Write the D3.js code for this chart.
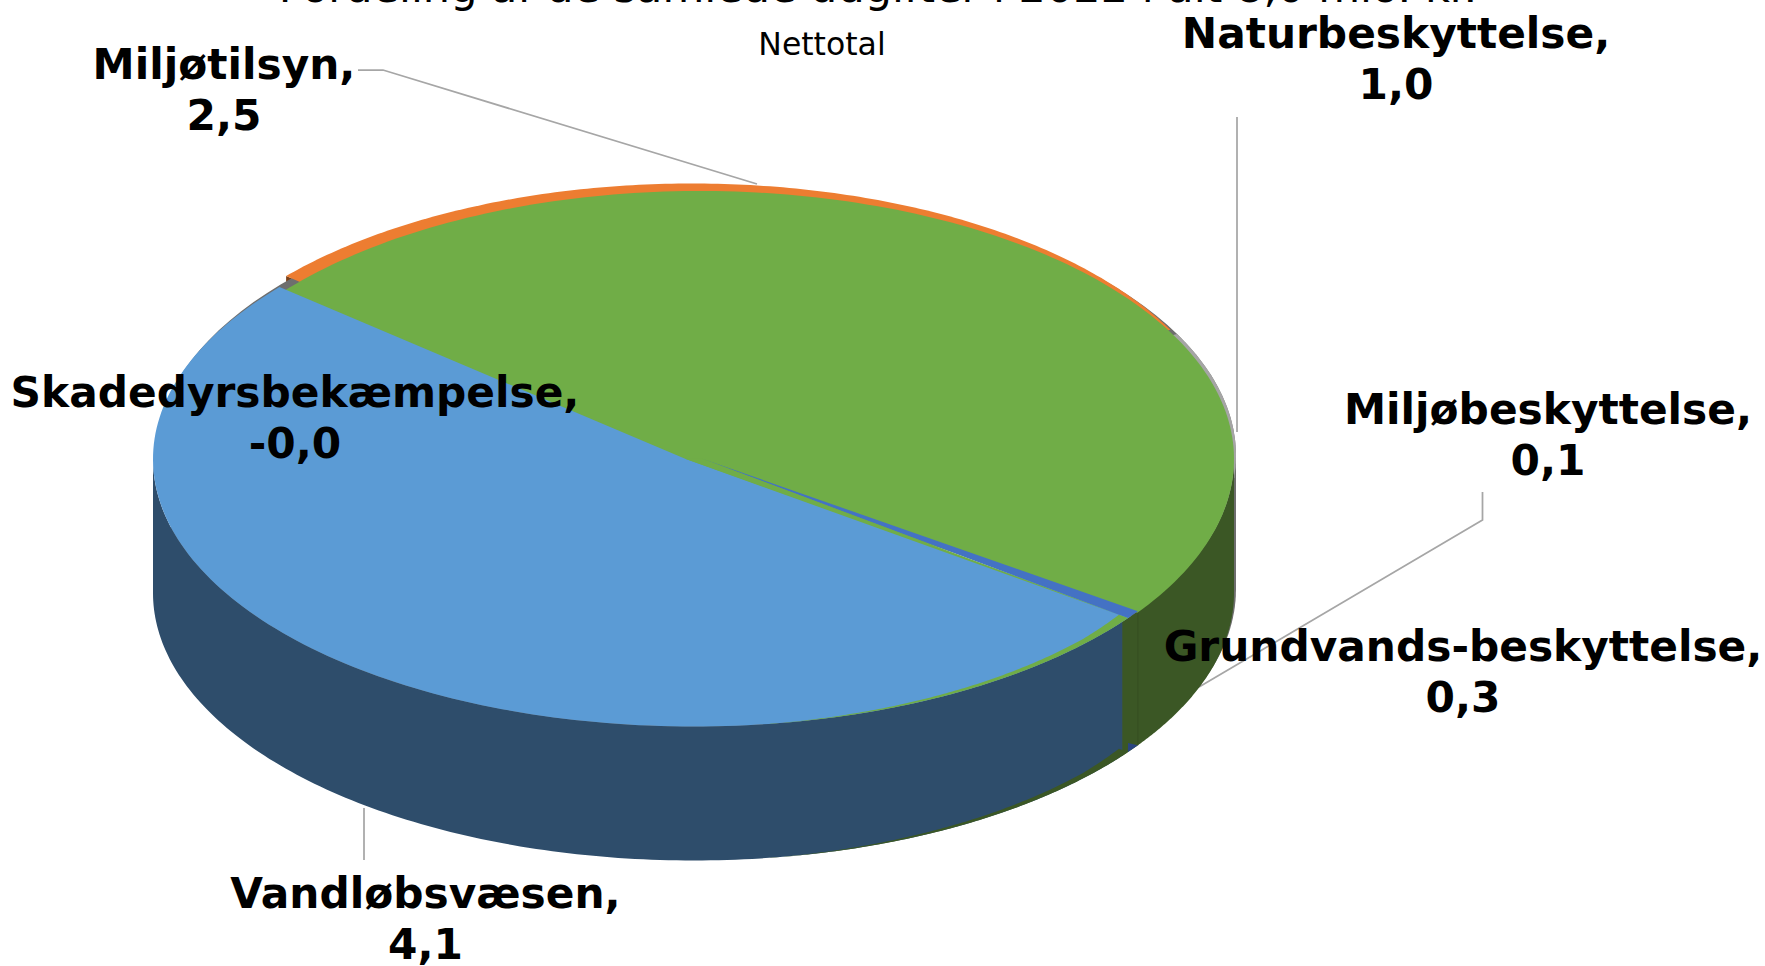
<!DOCTYPE html>
<html lang="da">
<head>
<meta charset="utf-8">
<title>Fordeling af de samlede udgifter</title>
<style>
html,body{margin:0;padding:0;background:#fff;overflow:hidden}
svg{display:block}
text{font-family:"DejaVu Sans",Verdana,sans-serif;fill:#000}
</style>
<script src="https://cdn.jsdelivr.net/npm/d3@7/dist/d3.min.js"></script>
</head>
<body>
<script>
// ---- data ----
const categories = ["Vandløbsvæsen","Miljøtilsyn","Naturbeskyttelse","Miljøbeskyttelse","Grundvands-beskyttelse","Skadedyrsbekæmpelse"];
const values = [4.1, 2.5, 1.0, 0.1, 0.3, -0.0];
const valueLabels = ["4,1","2,5","1,0","0,1","0,3","-0,0"];
const titleText = "Fordeling af de samlede udgifter i 2022 i alt 8,0 mio. kr.";
const subtitleText = "Nettotal";

// ---- presentation ----
const W = 1765, H = 966, DEPTH = 134;
const C = {blue:"#5B9BD5", blueD:"#2E4D6B", orange:"#ED7D31", brown:"#7A4019", grey:"#A5A5A5", greyD:"#6E6E6E",
           line:"#4472C4", lineD:"#2A4480", green:"#70AD47", greenD:"#3B5725", greenE:"#364F22", lead:"#A6A6A6"};
const rad = d => d * Math.PI / 180;

const svg = d3.select("body").append("svg").attr("width", W).attr("height", H).attr("viewBox", `0 0 ${W} ${H}`);

// d3.pie gives the slice angles, starting at the lower right edge of the disc
const pie = d3.pie().sort(null).startAngle(rad(126)).endAngle(rad(126 + 360));
const arcs = pie(values);
const [blueArc, orangeArc, greyArc] = arcs;
const blueStart = blueArc.startAngle, blueEnd = blueArc.endAngle;

// an ellipse in polar terms, through two linear scales
function ellipse(cx, cy, rx, ry) {
  const x = d3.scaleLinear().domain([-1, 1]).range([cx - rx, cx + rx]);
  const y = d3.scaleLinear().domain([-1, 1]).range([cy - ry, cy + ry]);
  return (a, r = 1) => [x(r * Math.sin(a)), y(-r * Math.cos(a))];
}
const main   = ellipse(693.5, 459, 540.5, 267.5);
const greenE = ellipse(700, 459, 534, 268);
const orE    = ellipse(692, 451.5, 537, 268);
const greyE  = ellipse(696, 455.5, 540, 267.5);

const line = d3.line();
const samples = (a0, a1, n = 160) => d3.range(n + 1).map(i => a0 + (a1 - a0) * i / n);
const shift = (p, dy) => [p[0], p[1] + dy];

function wedge(e, a0, a1, apex) {
  return line([apex, ...samples(a0, a1).map(a => e(a))]) + "Z";
}
function side(e, a0, a1, d0 = 0, d1 = DEPTH) {
  const s = samples(a0, a1);
  return line([...s.map(a => shift(e(a), d0)), ...s.slice().reverse().map(a => shift(e(a), d1))]) + "Z";
}
const paint = (d, fill) => svg.append("path").attr("d", d).attr("fill", fill);

// ---- leader lines ----
const leaders = [
  [[358,70],[383,70],[757,184]],
  [[1237,117],[1237,432]],
  [[1482.5,492],[1482.5,520],[1199,687]],
  [[364,808],[364,860]]
];
svg.append("g").attr("fill","none").attr("stroke",C.lead).attr("stroke-width",1.75)
  .selectAll("path").data(leaders).join("path").attr("d", d => line(d));

// ---- exploded slices behind the disc ----
const orApex = orE(0, 0), orTip = orE(orangeArc.startAngle + rad(0.4));
paint(line([orTip, orApex, shift(orApex, DEPTH), shift(orTip, DEPTH)]) + "Z", C.brown);
paint(side(greyE, rad(90), greyArc.endAngle), C.greyD);
paint(wedge(orE, orangeArc.startAngle + rad(0.4), orangeArc.endAngle, orApex), C.orange);
paint(wedge(greyE, greyArc.startAngle, greyArc.endAngle, greyE(0, 0)), C.grey);

// ---- side wall ----
const wallSplit = blueStart + rad(1.5);
const cutOuter = blueStart - rad(1.3), cutMid = blueStart + rad(0.5);
paint(side(main, wallSplit - rad(0.1), rad(270)), C.blueD);
paint(side(main, rad(90), wallSplit), C.greenD);
svg.append("path").attr("d", line([main(cutOuter), shift(main(cutOuter), DEPTH)]))
   .attr("stroke", C.greenE).attr("stroke-width", 1).attr("fill", "none");

// the sliver where the disc's outline slips inside the outer edge
const sliverA = d3.scaleLinear().domain([rad(126.5), rad(133.3), rad(147.6), rad(172)]).range([0.979, 0.986, 0.991, 1]);
const sliverS = samples(rad(126.5), rad(172), 120);
const sliver = (dy) => line([...sliverS.map(a => shift(main(a), dy)),
                             ...sliverS.slice().reverse().map(a => shift(main(a, sliverA(a)), dy))]) + "Z";
paint(sliver(DEPTH), C.greenD);
paint(line([shift(main(cutMid), DEPTH - 9), shift(main(cutMid), DEPTH), shift(main(cutOuter), DEPTH)]) + "Z", C.lineD);

// ---- top face ----
const apexB = main(rad(272), 0.0155);
paint(wedge(greenE, blueEnd - rad(1.7), blueStart + rad(360) - rad(1), main(rad(180), 0.03)), C.green);
paint(wedge(main, blueStart, blueEnd - rad(0.5), apexB), C.blue);

// thin face of the small slice along the cut, with a green hairline under it
const lineOuter = main(cutOuter);
const lineInner = main(cutMid, 0.981);
const lineApex  = main(rad(86), 0.016);
paint(line([lineApex, lineOuter, main(cutMid), lineInner]) + "Z", C.line);
paint(line([apexB, lineApex, lineInner]) + "Z", C.green);
paint(sliver(0), C.green);

// ---- title ----
svg.append("text").attr("x", 878).attr("y", 2).attr("text-anchor","middle").attr("font-size",43).text(titleText);
svg.append("text").attr("x", 822).attr("y", 55).attr("text-anchor","middle").attr("font-size",31.5).text(subtitleText);

// ---- data labels ----
const labelPos = [
  {cx:425.5, y:908},
  {cx:224,   y:79},
  {cx:1396,  y:48},
  {cx:1548,  y:424},
  {cx:1463,  y:661},
  {cx:295,   y:407}
];
const g = svg.append("g").attr("font-weight","bold").attr("font-size",42.3).attr("text-anchor","middle");
categories.forEach((c, i) => {
  const t = g.append("text").attr("x", labelPos[i].cx).attr("y", labelPos[i].y);
  t.append("tspan").attr("x", labelPos[i].cx).text(c + ",");
  t.append("tspan").attr("x", labelPos[i].cx).attr("y", labelPos[i].y + 51).text(valueLabels[i]);
});
</script>
</body>
</html>
